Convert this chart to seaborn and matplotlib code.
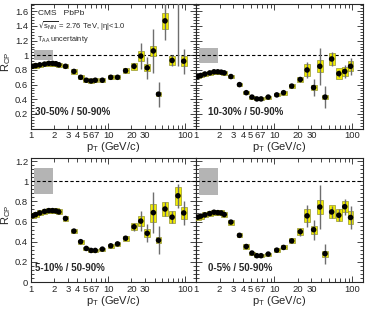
import numpy as np
import pandas as pd
import matplotlib
matplotlib.use('Agg')
import matplotlib.pyplot as plt
import seaborn as sns
from matplotlib.ticker import FixedLocator, FuncFormatter, MultipleLocator, NullFormatter

# --- data ---
pt = [1.05, 1.15, 1.3, 1.5, 1.7, 1.9, 2.1, 2.3, 2.8, 3.6, 4.4, 5.2, 6.0, 6.8, 8.4,
      10.8, 13.2, 16.8, 21.6, 26.4, 32.0, 38.4, 44.8, 54.4, 67.2, 80.0, 95.0]

rcp_30_50 = [0.85, 0.86, 0.87, 0.88, 0.89, 0.89, 0.885, 0.87, 0.85, 0.78, 0.70, 0.66, 0.65, 0.66,
             0.66, 0.70, 0.70, 0.79, 0.85, 0.99, 0.83, 1.06, 0.47, 1.47, 0.93, 2.00, 0.92]
sys_30_50 = [0.03, 0.03, 0.03, 0.03, 0.03, 0.03, 0.03, 0.03, 0.03, 0.03, 0.03, 0.025, 0.025, 0.025,
             0.025, 0.03, 0.03, 0.035, 0.045, 0.07, 0.05, 0.07, 0.03, 0.11, 0.06, 0.08, 0.07]
stat_30_50 = [0.005, 0.005, 0.005, 0.005, 0.005, 0.005, 0.005, 0.005, 0.005, 0.005, 0.005, 0.005, 0.005, 0.005,
              0.01, 0.01, 0.015, 0.02, 0.04, 0.18, 0.15, 0.30, 0.17, 0.26, 0.07, 1.15, 0.17]

rcp_10_30 = [0.71, 0.725, 0.745, 0.76, 0.775, 0.775, 0.77, 0.76, 0.71, 0.60, 0.49, 0.43, 0.405, 0.405,
             0.43, 0.46, 0.49, 0.58, 0.67, 0.80, 0.56, 0.85, 0.43, 0.95, 0.75, 0.78, 0.85]
sys_10_30 = [0.025, 0.025, 0.025, 0.025, 0.025, 0.025, 0.025, 0.025, 0.025, 0.025, 0.02, 0.02, 0.02, 0.02,
             0.02, 0.02, 0.025, 0.03, 0.04, 0.085, 0.04, 0.08, 0.03, 0.085, 0.07, 0.06, 0.07]
stat_10_30 = [0.005, 0.005, 0.005, 0.005, 0.005, 0.005, 0.005, 0.005, 0.005, 0.005, 0.005, 0.005, 0.005, 0.005,
              0.01, 0.01, 0.01, 0.02, 0.04, 0.11, 0.11, 0.25, 0.15, 0.09, 0.05, 0.09, 0.12]

rcp_5_10 = [0.656, 0.669, 0.685, 0.70, 0.708, 0.708, 0.705, 0.695, 0.63, 0.505, 0.40, 0.333, 0.313, 0.313,
            0.326, 0.359, 0.378, 0.434, 0.548, 0.604, 0.483, 0.688, 0.414, 0.724, 0.643, 0.855, 0.685]
sys_5_10 = [0.025, 0.025, 0.025, 0.025, 0.025, 0.025, 0.025, 0.025, 0.025, 0.02, 0.02, 0.015, 0.015, 0.015,
            0.015, 0.02, 0.02, 0.025, 0.035, 0.05, 0.04, 0.09, 0.03, 0.07, 0.06, 0.09, 0.06]
stat_5_10 = [0.005, 0.005, 0.005, 0.005, 0.005, 0.005, 0.005, 0.005, 0.005, 0.005, 0.005, 0.005, 0.005, 0.005,
             0.01, 0.01, 0.01, 0.02, 0.04, 0.10, 0.09, 0.20, 0.14, 0.065, 0.06, 0.12, 0.12]

rcp_0_5 = [0.643, 0.653, 0.666, 0.679, 0.692, 0.688, 0.685, 0.669, 0.594, 0.463, 0.352, 0.287, 0.261, 0.261,
           0.277, 0.316, 0.343, 0.408, 0.499, 0.656, 0.519, 0.744, 0.281, 0.695, 0.662, 0.747, 0.64]
sys_0_5 = [0.025, 0.025, 0.025, 0.025, 0.025, 0.025, 0.025, 0.025, 0.025, 0.02, 0.02, 0.015, 0.015, 0.015,
           0.015, 0.02, 0.02, 0.025, 0.035, 0.065, 0.04, 0.065, 0.03, 0.065, 0.06, 0.055, 0.06]
stat_0_5 = [0.005, 0.005, 0.005, 0.005, 0.005, 0.005, 0.005, 0.005, 0.005, 0.005, 0.005, 0.005, 0.005, 0.005,
            0.01, 0.01, 0.01, 0.02, 0.04, 0.11, 0.10, 0.22, 0.10, 0.06, 0.06, 0.08, 0.11]

panel_labels = ['30-50% / 50-90%', '10-30% / 50-90%', '5-10% / 50-90%', '0-5% / 50-90%']
taa_unc = [0.07, 0.105, 0.127, 0.135]
taa_x = [1.09, 1.93]

x_labels = {1: '1', 2: '2', 3: '3', 4: '4', 5: '5', 6: '6', 7: '7', 10: '10', 20: '20', 30: '30', 100: '100'}

# --- style ---
sns.set_style('ticks')
plt.rcParams['font.family'] = ['Liberation Sans', 'DejaVu Sans']
plt.rcParams['mathtext.default'] = 'regular'

fig = plt.figure(figsize=(3.66, 3.09), dpi=100)
w_l, w_r = 165 / 366, 167 / 366
x_l, x_r = 31 / 366, 196 / 366
boxes = [
    [x_l, 1 - 128.6 / 309, w_l, 124.6 / 309],
    [x_r, 1 - 128.6 / 309, w_r, 124.6 / 309],
    [x_l, 1 - 282 / 309, w_l, 124 / 309],
    [x_r, 1 - 282 / 309, w_r, 124 / 309],
]
panels = [
    (rcp_30_50, sys_30_50, stat_30_50),
    (rcp_10_30, sys_10_30, stat_10_30),
    (rcp_5_10, sys_5_10, stat_5_10),
    (rcp_0_5, sys_0_5, stat_0_5),
]

half = 1.09  # box half width, log scale factor
for i, (vals, sysv, statv) in enumerate(panels):
    ax = fig.add_axes(boxes[i])
    df = pd.DataFrame({'pt': pt, 'rcp': vals, 'sys': sysv, 'stat': statv})
    ax.set_xscale('log')
    ax.set_xlim(1, 137)
    ymax = 1.7 if i < 2 else 1.23
    ax.set_ylim(0, ymax)

    # T_AA box
    ax.fill_between(taa_x, 1 - taa_unc[i], 1 + taa_unc[i], color='#b4b4b4', lw=0, zorder=1)
    ax.axhline(1, color='black', lw=0.8, ls=(0, (3, 2)), zorder=2)

    # systematic boxes
    left = df['pt'] / half
    ax.bar(left, 2 * df['sys'], width=df['pt'] * half - left, bottom=df['rcp'] - df['sys'],
           align='edge', color='#f2ee00', edgecolor='#7a7a20', linewidth=0.4, zorder=3)
    # statistical bars
    ax.errorbar(df['pt'], df['rcp'], yerr=df['stat'], fmt='none', ecolor='#6e6e6e',
                elinewidth=1.0, capsize=0, zorder=4)
    sns.scatterplot(data=df, x='pt', y='rcp', ax=ax, color='black', s=16, marker='o',
                    edgecolor='none', zorder=5, legend=False)

    # ticks
    ax.xaxis.set_major_locator(FixedLocator([1, 10, 100]))
    minors = [2, 3, 4, 5, 6, 7, 8, 9, 20, 30, 40, 50, 60, 70, 80, 90]
    ax.xaxis.set_minor_locator(FixedLocator(minors))
    fmt = FuncFormatter(lambda v, p: x_labels.get(int(round(v)), '') if abs(v - round(v)) < 1e-6 else '')
    ax.xaxis.set_major_formatter(fmt)
    ax.xaxis.set_minor_formatter(fmt)
    ax.yaxis.set_major_locator(MultipleLocator(0.2))
    ax.yaxis.set_minor_locator(MultipleLocator(0.04))
    ax.tick_params(which='both', direction='in', top=True, right=True, labelsize=6.8, pad=2,
                   width=0.6)
    ax.tick_params(which='major', length=4)
    ax.tick_params(which='minor', length=2)
    ax.tick_params(axis='x', which='minor', length=3)
    for s in ax.spines.values():
        s.set_linewidth(0.8)

    if i % 2 == 0:
        if i == 0:
            ax.yaxis.set_major_formatter(FuncFormatter(lambda v, p: '' if v < 0.01 else '%g' % round(v, 1)))
        else:
            ax.yaxis.set_major_formatter(FuncFormatter(lambda v, p: '%g' % round(v, 1)))
        ax.set_ylabel('$R_{CP}$', fontsize=8)
        ax.yaxis.set_label_coords(-0.11, 0.54)
    else:
        ax.yaxis.set_major_formatter(NullFormatter())
        ax.set_ylabel('')
    ax.set_xlabel('$p_{T}$ (GeV/c)', fontsize=8, labelpad=0)

    ytxt = 0.093 if i < 2 else 0.073
    ax.text(0.025 if i % 2 == 0 else 0.07, ytxt, panel_labels[i], transform=ax.transAxes,
            fontsize=7, fontweight='bold', ha='left', va='bottom')

    if i == 0:
        ax.text(0.04, 0.955, 'CMS   PbPb', transform=ax.transAxes, fontsize=6, va='top')
        ax.text(0.04, 0.875, r'$\sqrt{s_{NN}}$ = 2.76 TeV, |$\eta$|<1.0', transform=ax.transAxes,
                fontsize=5.5, va='top')
        ax.text(0.035, 0.67, '$T_{AA}$ uncertainty', transform=ax.transAxes, fontsize=5.3, va='bottom')

fig.savefig('out.png', dpi=100)
